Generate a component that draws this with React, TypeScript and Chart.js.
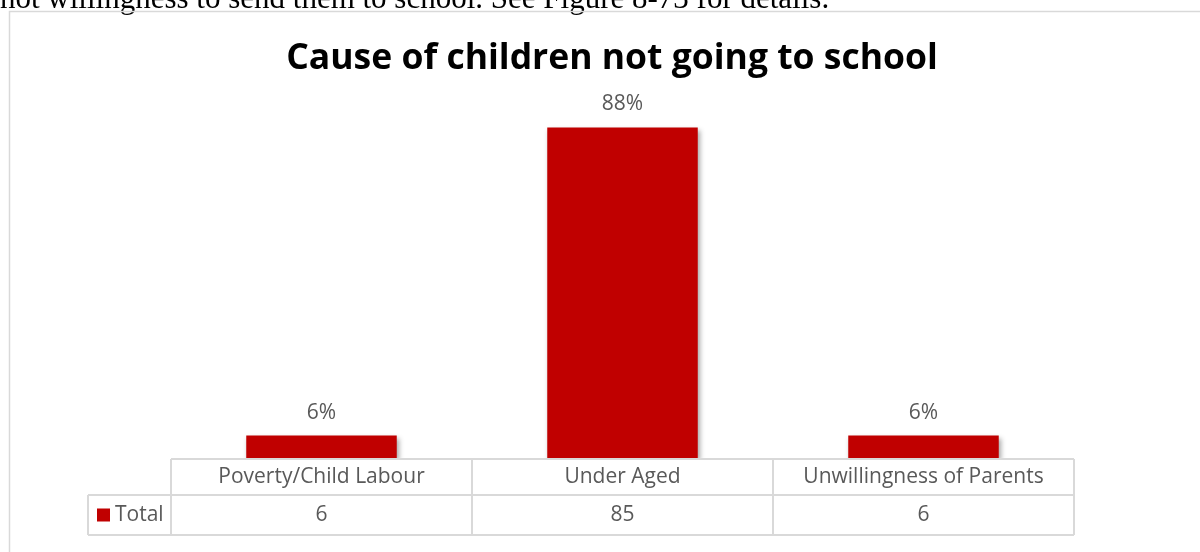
import React, { useEffect, useRef } from "react";
import { Chart, registerables } from "chart.js";

Chart.register(...registerables);

const categories = ["Poverty/Child Labour", "Under Aged", "Unwillingness of Parents"];
const totals = [6, 85, 6];
const percentLabels = ["6%", "88%", "6%"];
const seriesName = "Total";
const chartTitle = "Cause of children not going to school";
const docText = "not willingness to send them to school. See Figure 8-73 for details.";

const BAR = "#C00000";
const TXT = "#595959";
const GRID = "#D9D9D9";
const FONT = "'Open Sans', 'Noto Sans', sans-serif";

const decorPlugin = {
  id: "decor",
  beforeDatasetsDraw(chart: any) {
    const ctx = chart.ctx;
    ctx.save();
    ctx.shadowColor = "rgba(0,0,0,0.35)";
    ctx.shadowBlur = 5;
    ctx.shadowOffsetX = 2;
    ctx.shadowOffsetY = 2;
  },
  afterDatasetsDraw(chart: any) {
    chart.ctx.restore();
  },
  afterDraw(chart: any) {
    const ctx = chart.ctx;
    const area = chart.chartArea;
    const xs = chart.scales.x;
    const meta = chart.getDatasetMeta(0);
    ctx.save();

    // document text above the chart frame
    ctx.fillStyle = "#000";
    ctx.font = "31px 'Liberation Serif', serif";
    ctx.textAlign = "left";
    ctx.textBaseline = "alphabetic";
    ctx.fillText(docText, 0, 8);

    // frame
    ctx.strokeStyle = GRID;
    ctx.lineWidth = 1.5;
    ctx.beginPath();
    ctx.moveTo(9.5, 552);
    ctx.lineTo(9.5, 11.5);
    ctx.lineTo(1200, 11.5);
    ctx.stroke();

    // title
    ctx.fillStyle = "#000";
    ctx.font = `bold 35.5px ${FONT}`;
    ctx.textAlign = "center";
    ctx.textBaseline = "middle";
    ctx.fillText(chartTitle, 612, 59);

    // data labels
    ctx.fillStyle = TXT;
    ctx.font = `21px ${FONT}`;
    meta.data.forEach((bar: any, i: number) => {
      ctx.fillText(percentLabels[i], bar.x, bar.y - 23);
    });

    // data table
    const n = categories.length;
    const step = (area.right - area.left) / n;
    const top = area.bottom;
    const mid = top + 36;
    const bot = mid + 40;
    const labelLeft = 88;
    ctx.strokeStyle = GRID;
    ctx.lineWidth = 2;
    ctx.beginPath();
    ctx.moveTo(area.left, top);
    ctx.lineTo(area.right, top);
    ctx.moveTo(labelLeft, mid);
    ctx.lineTo(area.right, mid);
    ctx.moveTo(labelLeft, bot);
    ctx.lineTo(area.right, bot);
    ctx.moveTo(labelLeft, mid);
    ctx.lineTo(labelLeft, bot);
    for (let i = 0; i <= n; i++) {
      const x = area.left + step * i;
      ctx.moveTo(x, top);
      ctx.lineTo(x, bot);
    }
    ctx.stroke();

    ctx.fillStyle = TXT;
    ctx.font = `21px ${FONT}`;
    categories.forEach((c, i) => {
      const x = xs.getPixelForValue(i);
      ctx.fillText(c, x, (top + mid) / 2);
      ctx.fillText(String(totals[i]), x, (mid + bot) / 2);
    });

    // legend key
    ctx.fillStyle = BAR;
    ctx.fillRect(97, (mid + bot) / 2 - 6.5, 13, 13);
    ctx.fillStyle = TXT;
    ctx.textAlign = "left";
    ctx.fillText(seriesName, 115, (mid + bot) / 2);

    ctx.restore();
  },
};

export default function App() {
  const ref = useRef<HTMLCanvasElement>(null);
  useEffect(() => {
    if (!ref.current) return;
    const chart = new Chart(ref.current, {
      type: "bar",
      data: {
        labels: categories,
        datasets: [
          {
            label: seriesName,
            data: totals,
            backgroundColor: BAR,
            borderWidth: 0,
            categoryPercentage: 1,
            barPercentage: 0.5,
          },
        ],
      },
      options: {
        animation: false,
        responsive: false,
        maintainAspectRatio: false,
        layout: { padding: { left: 171, right: 126, top: 108, bottom: 93 } },
        plugins: { legend: { display: false }, title: { display: false }, tooltip: { enabled: false } },
        scales: {
          x: { display: false },
          y: { display: false, min: 0, max: 90 },
        },
      },
      plugins: [decorPlugin],
    });
    return () => chart.destroy();
  }, []);
  return (
    <div style={{ position: "absolute", left: 0, top: 0, width: 1200, height: 552, background: "#fff" }}>
      <canvas ref={ref} width={1200} height={552} style={{ display: "block", width: 1200, height: 552 }} />
    </div>
  );
}
